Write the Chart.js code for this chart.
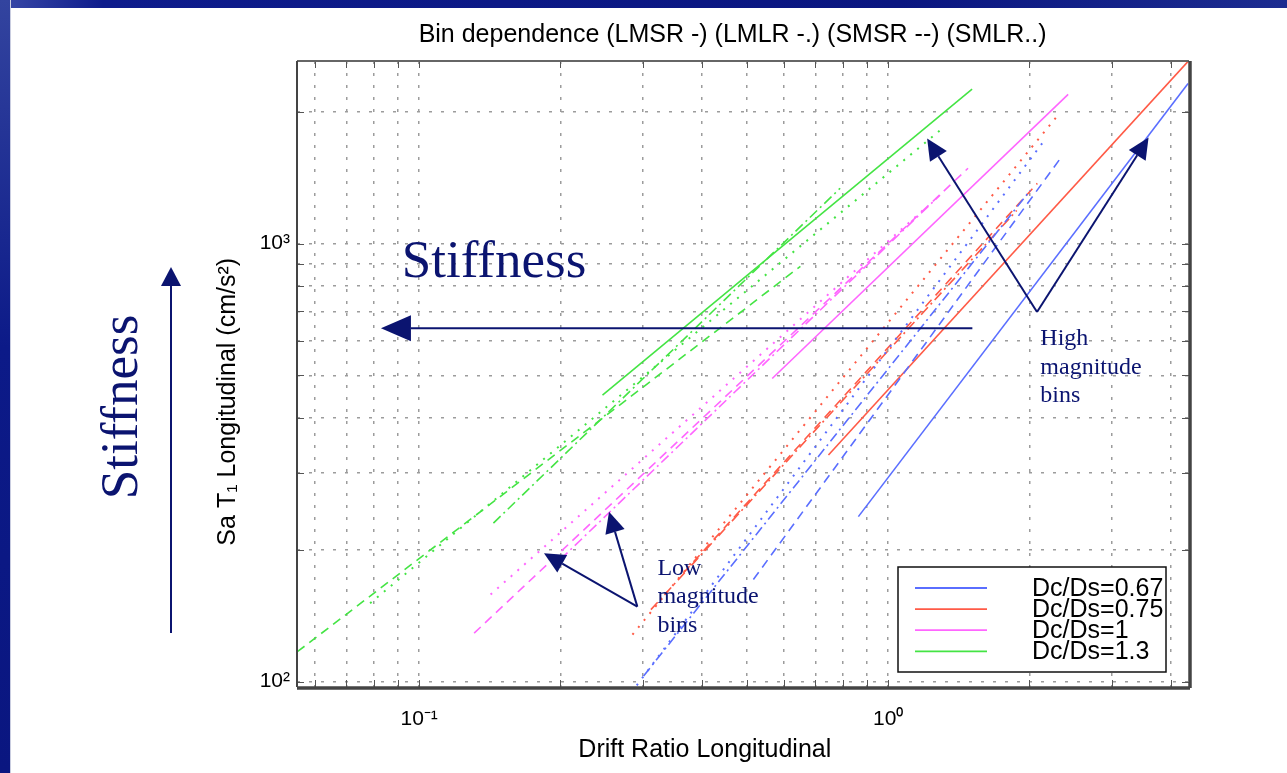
<!DOCTYPE html>
<html>
<head>
  <title>Bin dependence</title>
  <script src="https://cdn.jsdelivr.net/npm/chart.js"></script>
  <style>
    body { margin: 0; background: #fff; overflow: hidden; }
    #topbar { position: absolute; left: 0; top: 0; width: 1287px; height: 8px;
      background: linear-gradient(to right, #3a4aa8, #0e1c8c 8%, #0a1680 70%, #1c2c90); }
    #sidebar { position: absolute; left: 0; top: 0; width: 10px; height: 773px;
      background: linear-gradient(#33449f, #0c1a88 45%, #0a1680); border-right: 1px solid #c9cde0; }
    #chart { position: absolute; left: 0; top: 0; }
  </style>
</head>
<body>
  <div id="topbar"></div>
  <div id="sidebar"></div>
  <canvas id="chart" width="1287" height="773"></canvas>

  <script>
    const titleText = 'Bin dependence (LMSR -) (LMLR -.) (SMSR --) (SMLR..)';
    const seriesLabels = ['Dc/Ds=0.67', 'Dc/Ds=0.75', 'Dc/Ds=1', 'Dc/Ds=1.3'];
    const seriesColors = ['#5a6eff', '#ff5a46', '#ff66ff', '#44e444'];
    const binNames = ['LMSR', 'LMLR', 'SMSR', 'SMLR'];
    const binDashes = [[], [10, 4, 2, 4], [9, 6], [2, 7]];

    // [drift ratio, Sa] end points
    const dc067_LMSR = [[0.864, 238], [4.36, 2320]];
    const dc067_LMLR = [[0.301, 103], [2.01, 1323]];
    const dc067_SMSR = [[0.516, 171], [2.33, 1565]];
    const dc067_SMLR = [[0.291, 98], [2.17, 1739]];
    const dc075_LMSR = [[0.746, 329], [4.36, 2605]];
    const dc075_LMLR = [[0.312, 146], [1.88, 1190]];
    const dc075_SMSR = [[0.366, 177], [2.08, 1372]];
    const dc075_SMLR = [[0.285, 128], [2.31, 1972]];
    const dc1_LMSR = [[0.566, 492], [2.42, 2190]];
    const dc1_LMLR = [[0.20, 190], [1.29, 1290]];
    const dc1_SMSR = [[0.131, 129], [1.48, 1485]];
    const dc1_SMLR = [[0.142, 158], [1.20, 1204]];
    const dc13_LMSR = [[0.246, 451], [1.51, 2250]];
    const dc13_LMLR = [[0.144, 230], [0.79, 1337]];
    const dc13_SMSR = [[0.055, 117], [0.228, 375], [0.65, 887]];
    const dc13_SMLR = [[0.0786, 151], [1.305, 1832]];

    const xTickValues = [0.06, 0.07, 0.08, 0.09, 0.1, 0.2, 0.3, 0.4, 0.5, 0.6, 0.7, 0.8, 0.9, 1, 2, 3, 4];
    const xTickText   = ['', '', '', '', '10⁻¹', '', '', '', '', '', '', '', '', '10⁰', '', '', ''];
    const yTickValues = [100, 200, 300, 400, 500, 600, 700, 800, 900, 1000, 2000];
    const yTickText   = ['10²', '', '', '', '', '', '', '', '', '10³', ''];

    const binData = [
      [dc067_LMSR, dc067_LMLR, dc067_SMSR, dc067_SMLR],
      [dc075_LMSR, dc075_LMLR, dc075_SMSR, dc075_SMLR],
      [dc1_LMSR, dc1_LMLR, dc1_SMSR, dc1_SMLR],
      [dc13_LMSR, dc13_LMLR, dc13_SMSR, dc13_SMLR]
    ];

    const datasets = [];
    seriesLabels.forEach((name, s) => {
      binNames.forEach((bin, b) => {
        datasets.push({
          label: name + ' ' + bin,
          data: binData[s][b].map(p => ({ x: p[0], y: p[1] })),
          borderColor: seriesColors[s],
          borderWidth: b === 3 ? 2 : 1.6,
          borderDash: binDashes[b],
          pointRadius: 0,
          fill: false,
          tension: 0
        });
      });
    });

    const navy = '#0b1470';
    const sans = 'Liberation Sans, Arial, sans-serif';
    const serif = 'Liberation Serif, Times New Roman, serif';

    // annotation anchors in data units
    const stiffArrow = { from: [1.512, 641], to: [0.0829, 641] };
    const stiffLabel = [0.0918, 838];
    const highNote = { vertex: [2.077, 698], tips: [[1.211, 1736], [3.591, 1745]], at: [2.111, 586] };
    const lowNote = { vertex: [0.2919, 148.3], tips: [[0.1846, 196.3], [0.254, 244.2]], at: [0.3221, 175.2] };
    const noteLines = ['magnitude', 'bins'];

    function arrow(ctx, x0, y0, x1, y1, len, half) {
      const ang = Math.atan2(y1 - y0, x1 - x0);
      const bx = x1 - Math.cos(ang) * len, by = y1 - Math.sin(ang) * len;
      ctx.beginPath();
      ctx.moveTo(x0, y0);
      ctx.lineTo(bx, by);
      ctx.stroke();
      ctx.beginPath();
      ctx.moveTo(x1, y1);
      ctx.lineTo(bx + Math.sin(ang) * half, by - Math.cos(ang) * half);
      ctx.lineTo(bx - Math.sin(ang) * half, by + Math.cos(ang) * half);
      ctx.closePath();
      ctx.fill();
    }

    const slideExtras = {
      id: 'slideExtras',
      afterDatasetsDraw(chart) {
        const { ctx, chartArea: a, scales: { x, y } } = chart;
        const P = p => [x.getPixelForValue(p[0]), y.getPixelForValue(p[1])];
        ctx.save();

        // matlab style inward ticks
        ctx.strokeStyle = '#555';
        ctx.lineWidth = 1;
        ctx.beginPath();
        xTickValues.forEach(v => {
          const px = Math.round(x.getPixelForValue(v)) + 0.5;
          ctx.moveTo(px, a.bottom); ctx.lineTo(px, a.bottom - 7);
          ctx.moveTo(px, a.top); ctx.lineTo(px, a.top + 7);
        });
        yTickValues.forEach(v => {
          const py = Math.round(y.getPixelForValue(v)) + 0.5;
          ctx.moveTo(a.left, py); ctx.lineTo(a.left + 7, py);
          ctx.moveTo(a.right, py); ctx.lineTo(a.right - 7, py);
        });
        ctx.stroke();

        // axes box
        ctx.strokeStyle = '#666';
        ctx.lineWidth = 2;
        ctx.beginPath(); ctx.moveTo(a.left, a.top); ctx.lineTo(a.right, a.top); ctx.stroke();
        ctx.strokeStyle = '#444';
        ctx.beginPath(); ctx.moveTo(a.left, a.top); ctx.lineTo(a.left, a.bottom); ctx.stroke();
        ctx.lineWidth = 3.5;
        ctx.beginPath(); ctx.moveTo(a.left, a.bottom + 1); ctx.lineTo(a.right + 1, a.bottom + 1); ctx.stroke();
        ctx.beginPath(); ctx.moveTo(a.right + 1, a.top); ctx.lineTo(a.right + 1, a.bottom + 1); ctx.stroke();

        // annotations
        ctx.strokeStyle = navy;
        ctx.fillStyle = navy;
        ctx.lineWidth = 2;
        const f = P(stiffArrow.from), t = P(stiffArrow.to);
        arrow(ctx, f[0], f[1], t[0], t[1], 30, 13);

        [highNote, lowNote].forEach(n => {
          const v = P(n.vertex);
          n.tips.forEach(tp => { const q = P(tp); arrow(ctx, v[0], v[1], q[0], q[1], 21, 10); });
        });

        ctx.font = '53px ' + serif;
        ctx.textAlign = 'left';
        ctx.textBaseline = 'alphabetic';
        const sl = P(stiffLabel);
        ctx.fillText('Stiffness', sl[0], sl[1]);

        ctx.font = '24px ' + serif;
        [[highNote, 'High'], [lowNote, 'Low']].forEach(([n, first]) => {
          const p = P(n.at);
          [first].concat(noteLines).forEach((s, i) => ctx.fillText(s, p[0], p[1] + i * 28.4));
        });

        // outside stiffness arrow and rotated word
        arrow(ctx, a.left - 126, a.bottom - 54, a.left - 126, a.bottom - 420, 19, 10);
        ctx.save();
        ctx.translate(a.left - 160, a.top + 346);
        ctx.rotate(-Math.PI / 2);
        ctx.textAlign = 'center';
        ctx.font = '53px ' + serif;
        ctx.fillText('Stiffness', 0, 0);
        ctx.restore();

        // legend box
        const lx = a.right - 291, ly = a.bottom - 120, lw = 268, lh = 105;
        ctx.fillStyle = '#fff';
        ctx.fillRect(lx, ly, lw, lh);
        ctx.strokeStyle = '#111';
        ctx.lineWidth = 1.5;
        ctx.strokeRect(lx, ly, lw, lh);
        ctx.font = '25px ' + sans;
        ctx.textBaseline = 'middle';
        seriesLabels.forEach((name, s) => {
          const yy = ly + 21 + s * 21.1;
          ctx.strokeStyle = seriesColors[s];
          ctx.lineWidth = 1.8;
          ctx.beginPath(); ctx.moveTo(lx + 17, yy); ctx.lineTo(lx + 89, yy); ctx.stroke();
          ctx.fillStyle = '#000';
          ctx.fillText(name, lx + 134, yy + 1);
        });
        ctx.restore();
      }
    };

    const tickFont = { family: sans, size: 21 };
    const labelFont = { family: sans, size: 25, weight: 'normal' };

    new Chart(document.getElementById('chart'), {
      type: 'line',
      data: { datasets },
      options: {
        responsive: false,
        animation: false,
        devicePixelRatio: 1,
        layout: { padding: { left: 200, right: 98, top: 0, bottom: 0 } },
        plugins: {
          legend: { display: false },
          tooltip: { enabled: false },
          title: {
            display: true, fullSize: false,
            text: titleText + ' '.repeat(3),
            color: '#000', font: labelFont,
            padding: { top: 20, bottom: 11 }
          }
        },
        scales: {
          x: {
            type: 'logarithmic', min: 0.0549, max: 4.38,
            afterBuildTicks: s => { s.ticks = xTickValues.map(v => ({ value: v })); },
            afterFit: s => { s.height = 86; },
            ticks: { autoSkip: false, maxRotation: 0, padding: 20, color: '#000', font: tickFont,
              callback: (v, i) => xTickText[i] },
            grid: { color: '#9c9c9c', lineWidth: 1.5, drawTicks: false },
            border: { display: false, dash: [3, 9] },
            title: { display: true, text: 'Drift Ratio Longitudinal' + ' '.repeat(11), color: '#000',
              font: labelFont, padding: { bottom: 8 } }
          },
          y: {
            type: 'logarithmic', min: 97.2, max: 2610,
            afterBuildTicks: s => { s.ticks = yTickValues.map(v => ({ value: v })); },
            afterFit: s => { s.width = 97; },
            ticks: { autoSkip: false, padding: 7, color: '#000', font: tickFont,
              callback: (v, i) => yTickText[i] },
            grid: { color: '#9c9c9c', lineWidth: 1.5, drawTicks: false },
            border: { display: false, dash: [3, 9] },
            title: { display: true, text: 'Sa T₁ Longitudinal (cm/s²)' + ' '.repeat(8), color: '#000',
              font: labelFont, padding: { top: 13 } }
          }
        }
      },
      plugins: [slideExtras]
    });
  </script>
</body>
</html>
